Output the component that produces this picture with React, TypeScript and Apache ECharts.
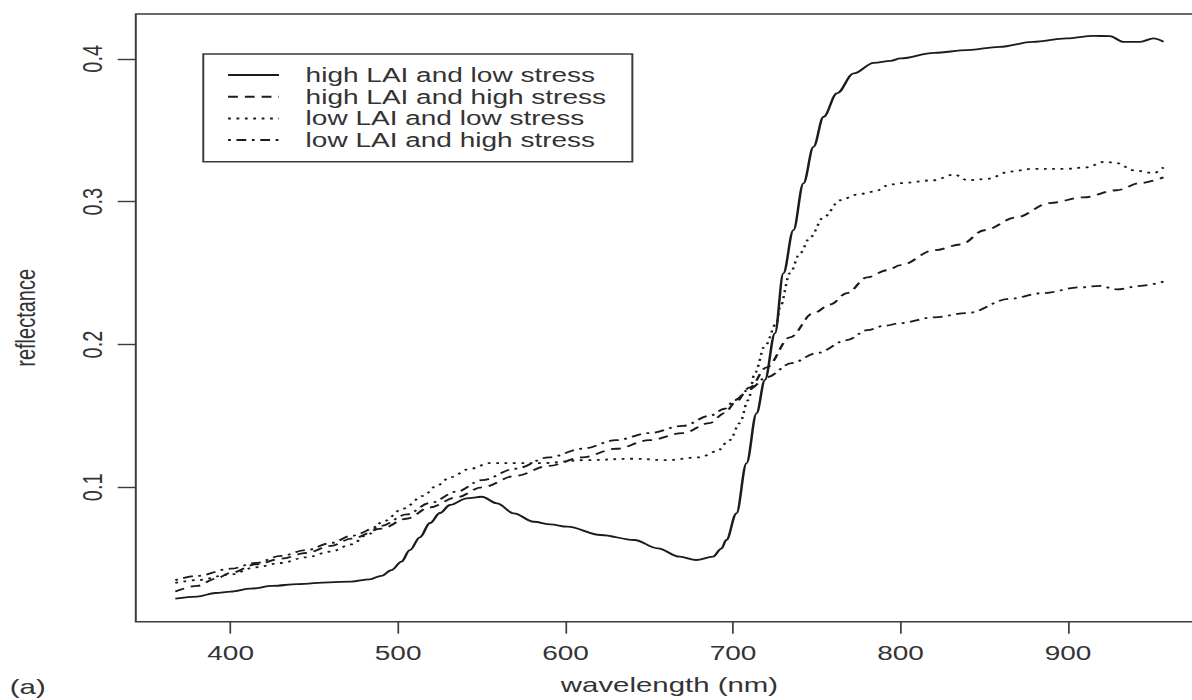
import React, { useEffect, useRef } from "react";
import * as echarts from "echarts";

// ---- data (wavelength nm, reflectance) ----
const seriesNames = [
  "high LAI and low stress",
  "high LAI and high stress",
  "low LAI and low stress",
  "low LAI and high stress",
];

const highLaiLowStress: [number, number][] = [
  [367, 0.022], [380, 0.0235], [391, 0.026], [400, 0.027], [412, 0.029], [425, 0.031],
  [440, 0.0322], [459, 0.0335], [472, 0.034], [483, 0.0356], [490, 0.038], [496, 0.042],
  [502, 0.048], [507, 0.056], [513, 0.065], [519, 0.075], [525, 0.082], [531, 0.0876],
  [541, 0.0923], [550, 0.0934], [559, 0.0888], [569, 0.0818], [581, 0.0759], [591, 0.074],
  [601, 0.0724], [621, 0.0666], [641, 0.0631], [655, 0.0573], [668, 0.0514], [678, 0.0491],
  [688, 0.0514], [693, 0.057], [696, 0.0631], [702, 0.0818], [708, 0.1168], [714, 0.1518],
  [719, 0.1751], [725, 0.2078], [730, 0.2498], [736, 0.2801], [742, 0.3128], [748, 0.3384],
  [754, 0.3594], [762, 0.3758], [772, 0.3898], [784, 0.3972], [794, 0.3986], [800, 0.4003],
  [820, 0.4042], [840, 0.4061], [859, 0.4084], [879, 0.4119], [899, 0.4143], [915, 0.4161],
  [925, 0.4159], [933, 0.4119], [943, 0.4119], [951, 0.4143], [957, 0.4119],
];

const highLaiHighStress: [number, number][] = [
  [367, 0.027], [380, 0.031], [391, 0.036], [400, 0.040], [415, 0.046], [430, 0.050],
  [445, 0.054], [460, 0.059], [472, 0.064], [490, 0.071], [505, 0.078], [519, 0.086],
  [535, 0.093], [550, 0.100], [570, 0.108], [590, 0.115], [610, 0.121], [630, 0.127],
  [650, 0.133], [670, 0.138], [686, 0.145], [695, 0.152], [701, 0.159], [710, 0.170],
  [720, 0.184], [734, 0.205], [748, 0.222], [758, 0.228], [768, 0.236], [780, 0.247],
  [792, 0.252], [800, 0.2555], [820, 0.266], [836, 0.270], [850, 0.280], [869, 0.289],
  [889, 0.299], [909, 0.303], [929, 0.308], [943, 0.313], [957, 0.317],
];

const lowLaiLowStress: [number, number][] = [
  [367, 0.033], [380, 0.035], [400, 0.039], [415, 0.044], [430, 0.047], [445, 0.051],
  [460, 0.055], [472, 0.060], [482, 0.067], [491, 0.076], [503, 0.085], [515, 0.094],
  [523, 0.101], [531, 0.107], [543, 0.113], [555, 0.117], [571, 0.117], [587, 0.117],
  [611, 0.119], [641, 0.120], [660, 0.119], [680, 0.121], [690, 0.125], [698, 0.133],
  [704, 0.145], [709, 0.161], [713, 0.180], [719, 0.199], [726, 0.215], [728, 0.226],
  [734, 0.250], [740, 0.264], [746, 0.275], [754, 0.289], [764, 0.301], [774, 0.305],
  [784, 0.307], [794, 0.312], [800, 0.313], [820, 0.315], [832, 0.319], [840, 0.315],
  [852, 0.316], [865, 0.321], [879, 0.323], [899, 0.323], [911, 0.324], [922, 0.328],
  [929, 0.327], [939, 0.322], [951, 0.320], [957, 0.324],
];

const lowLaiHighStress: [number, number][] = [
  [367, 0.035], [380, 0.038], [400, 0.043], [415, 0.047], [430, 0.052], [445, 0.056],
  [460, 0.061], [472, 0.066], [490, 0.073], [505, 0.081], [519, 0.089], [535, 0.097],
  [550, 0.105], [570, 0.113], [590, 0.121], [610, 0.127], [630, 0.133], [650, 0.138],
  [670, 0.143], [686, 0.150], [695, 0.155], [701, 0.161], [710, 0.169], [720, 0.177],
  [735, 0.187], [750, 0.194], [768, 0.203], [780, 0.210], [790, 0.213], [800, 0.215],
  [820, 0.219], [840, 0.222], [865, 0.232], [885, 0.236], [907, 0.240], [919, 0.241],
  [929, 0.2386], [943, 0.241], [957, 0.244],
];

const xTicks = [400, 500, 600, 700, 800, 900];
const yTicks = [0.1, 0.2, 0.3, 0.4];

const FONT = "'Liberation Sans', Arial, sans-serif";
const INK = "#1c1c1c";
const AXIS = "#3a3a3a";
const TEXT = "#333333";

export default function App() {
  const ref = useRef<HTMLDivElement>(null);

  useEffect(() => {
    const chart = echarts.init(ref.current!, null, { renderer: "svg" });
    const allData = [highLaiLowStress, highLaiHighStress, lowLaiLowStress, lowLaiHighStress];
    const dashes: any[] = ["solid", [7, 5], [2, 4], [2, 4, 7, 4]];

    chart.setOption({
      animation: false,
      backgroundColor: "#ffffff",
      textStyle: { fontFamily: FONT },
      grid: {
        left: 96.43,
        top: 14,
        width: 762.9,
        height: 607.7,
        show: true,
        borderColor: AXIS,
        borderWidth: 1.4,
        backgroundColor: "transparent",
      },
      legend: {
        orient: "vertical",
        left: 145.2,
        top: 54,
        padding: [11, 18.8, 11.7, 16.7],
        itemWidth: 36.4,
        itemHeight: 14,
        itemGap: 1.7,
        borderColor: AXIS,
        borderWidth: 1.4,
        borderRadius: 0,
        selectedMode: false,
        data: seriesNames,
        itemStyle: { opacity: 0, borderWidth: 0, color: "rgba(0,0,0,0)" },
        textStyle: {
          fontFamily: FONT,
          fontSize: 20,
          lineHeight: 20,
          color: TEXT,
          padding: [0, 0, 0, 14],
        },
      },
      xAxis: {
        type: "value",
        min: 343.4,
        max: 980.6,
        name: "wavelength (nm)",
        nameLocation: "middle",
        nameGap: 52,
        nameTextStyle: { fontFamily: FONT, fontSize: 21, color: TEXT },
        axisLine: { show: false },
        splitLine: { show: false },
        axisTick: {
          show: true,
          length: 12,
          customValues: xTicks,
          lineStyle: { color: AXIS, width: 1.2 },
        },
        axisLabel: {
          customValues: xTicks,
          margin: 21,
          fontFamily: FONT,
          fontSize: 20,
          color: TEXT,
        },
      },
      yAxis: {
        type: "value",
        min: 0.0059,
        max: 0.4314,
        name: "reflectance",
        nameLocation: "middle",
        nameGap: 69,
        nameRotate: 90,
        nameTextStyle: { fontFamily: FONT, fontSize: 20, color: TEXT },
        axisLine: { show: false },
        splitLine: { show: false },
        axisTick: {
          show: true,
          length: 12.9,
          customValues: yTicks,
          lineStyle: { color: AXIS, width: 1.4 },
        },
        axisLabel: {
          customValues: yTicks,
          rotate: 90,
          margin: 21,
          fontFamily: FONT,
          fontSize: 20,
          color: TEXT,
          formatter: (v: number) => v.toFixed(1),
        },
      },
      graphic: [
        {
          type: "text",
          left: 7,
          top: 676,
          style: { text: "(a)", fontFamily: FONT, fontSize: 21, fill: TEXT },
        },
      ],
      series: allData.map((d, i) => ({
        name: seriesNames[i],
        type: "line",
        data: d,
        symbol: "none",
        smooth: 0.35,
        smoothMonotone: "x",
        silent: true,
        lineStyle: { color: INK, width: 1.8, type: dashes[i] },
        itemStyle: { color: INK },
        emphasis: { disabled: true },
      })),
    });

    return () => chart.dispose();
  }, []);

  return (
    <div
      style={{
        position: "fixed",
        left: 0,
        top: 0,
        width: 1192,
        height: 700,
        overflow: "hidden",
        background: "#ffffff",
      }}
    >
      <div
        ref={ref}
        style={{
          width: 880,
          height: 700,
          transform: "scaleX(1.4)",
          transformOrigin: "0 0",
        }}
      />
    </div>
  );
}
